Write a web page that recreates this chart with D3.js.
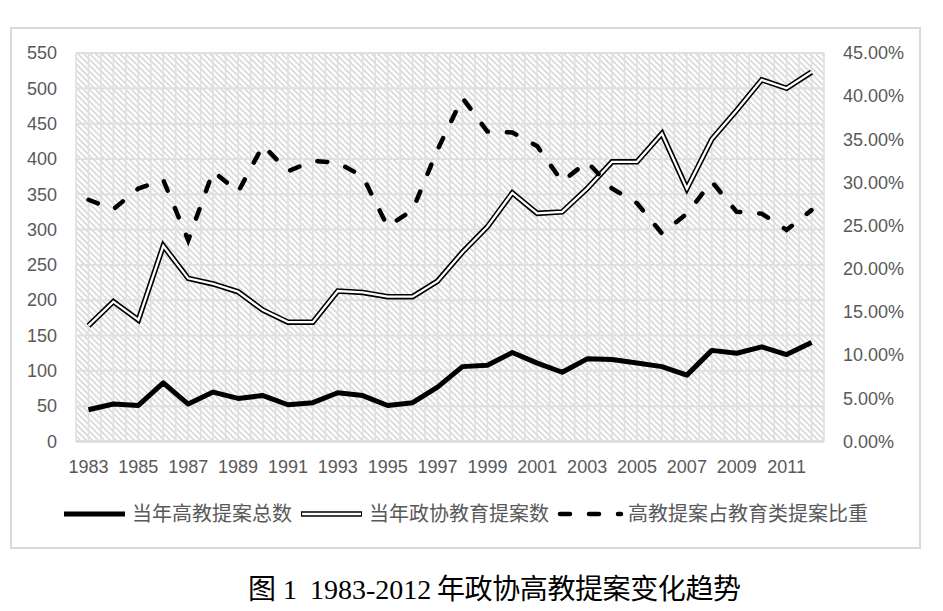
<!DOCTYPE html>
<html><head><meta charset="utf-8">
<script src="https://cdn.jsdelivr.net/npm/d3@7"></script>
<style>html,body{margin:0;padding:0;background:#fff}</style>
</head><body>
<svg id="c" width="943" height="611"></svg>
<script>
const years = d3.range(1983, 2013).map(String);
const xTickLabels = ["1983","1985","1987","1989","1991","1993","1995","1997","1999","2001","2003","2005","2007","2009","2011"];
const leftTicks = [0,50,100,150,200,250,300,350,400,450,500,550];
const rightTicks = [0,0.05,0.10,0.15,0.20,0.25,0.30,0.35,0.40,0.45];
const seriesNames = ["当年高教提案总数","当年政协教育提案数","高教提案占教育类提案比重"];
const totalHE = [45,53,51,83,53,70,61,65,52,55,69,65,51,55,77,106,108,126,111,98,117,116,111,106,94,129,125,134,123,140];
const totalEdu = [164,198,172,277,231,223,212,186,169,169,213,211,205,205,227,268,304,352,323,325,358,396,396,436,358,428,469,512,500,523];
const ratio = [0.280,0.269,0.293,0.303,0.233,0.313,0.289,0.343,0.313,0.325,0.323,0.307,0.249,0.268,0.338,0.398,0.359,0.358,0.342,0.301,0.324,0.293,0.276,0.241,0.264,0.301,0.266,0.264,0.245,0.268];
const titleParts = ["图 1", "1983-2012", "年政协高教提案变化趋势"];

const svg = d3.select("#c");
const L = 76, R = 824, T = 53, B = 441.5;
const x = d3.scaleBand().domain(years).range([L, R]).padding(0);
const cx = d => x(d) + x.bandwidth()/2;
const yL = d3.scaleLinear().domain([0,550]).range([B,T]);
const yR = d3.scaleLinear().domain([0,0.45]).range([B,T]);

// outer frame
svg.append("rect").attr("x",11).attr("y",28).attr("width",909).attr("height",520)
  .attr("fill","#fff").attr("stroke","#d9d9d9").attr("stroke-width",2);

// hatch pattern
const defs = svg.append("defs");
const pat = defs.append("pattern").attr("id","hatch").attr("patternUnits","userSpaceOnUse")
  .attr("width",6).attr("height",6);
pat.append("rect").attr("width",6).attr("height",6).attr("fill","#fff");
pat.append("path").attr("d","M-1,-1 L7,7 M-1,5 L1,7 M5,-1 L7,1").attr("stroke","#dadada").attr("stroke-width",1.7);
svg.append("rect").attr("x",L).attr("y",T).attr("width",R-L).attr("height",B-T).attr("fill","url(#hatch)");

// gridlines
const g = svg.append("g");
const half = x.bandwidth()/2;
const vx = d3.range(0, years.length*2+1).map(i => L + i*half);
g.selectAll("line.v").data(vx).join("line").attr("class","v")
  .attr("x1",d=>d).attr("x2",d=>d).attr("y1",T).attr("y2",B)
  .attr("stroke","#dfdfdf").attr("stroke-width",1.6);
g.selectAll("line.h").data(leftTicks).join("line").attr("class","h")
  .attr("x1",L).attr("x2",R).attr("y1",d=>yL(d)).attr("y2",d=>yL(d))
  .attr("stroke","#dfdfdf").attr("stroke-width",2);

// axes
const font = "'Liberation Sans', Arial, sans-serif";
const axL = svg.append("g").attr("transform",`translate(${L},0)`)
  .call(d3.axisLeft(yL).tickValues(leftTicks).tickSize(0).tickPadding(19));
const axR = svg.append("g").attr("transform",`translate(${R},0)`)
  .call(d3.axisRight(yR).tickValues(rightTicks).tickSize(0).tickPadding(19).tickFormat(d3.format(".2%")));
const axB = svg.append("g").attr("transform",`translate(0,${B})`)
  .call(d3.axisBottom(x).tickValues(xTickLabels).tickSize(0).tickPadding(19));
[axL,axR,axB].forEach(a=>{
  a.select(".domain").remove();
  a.selectAll("text").attr("fill","#595959").style("font-family",font).style("font-size","18px");
});
svg.append("line").attr("x1",L).attr("x2",R).attr("y1",B).attr("y2",B).attr("stroke","#d9d9d9").attr("stroke-width",2);

// lines
const lineL = d3.line().x((d,i)=>cx(years[i])).y(d=>yL(d));
const lineR = d3.line().x((d,i)=>cx(years[i])).y(d=>yR(d));
svg.append("path").attr("d",lineL(totalEdu)).attr("fill","none").attr("stroke","#000").attr("stroke-width",5.5).attr("stroke-linejoin","miter");
svg.append("path").attr("d",lineL(totalEdu)).attr("fill","none").attr("stroke","#fff").attr("stroke-width",2.3).attr("stroke-linejoin","miter");
svg.append("path").attr("d",lineL(totalHE)).attr("fill","none").attr("stroke","#000").attr("stroke-width",5).attr("stroke-linejoin","round");
svg.append("path").attr("d",lineR(ratio)).attr("fill","none").attr("stroke","#000").attr("stroke-width",4.5)
  .attr("stroke-dasharray","10 19").attr("stroke-linecap","round");

// legend
const ly = 514;
const lg = svg.append("g");
const items = [
  {x1:64,x2:125,tx:132,type:0},
  {x1:301,x2:362,tx:369,type:1},
  {x1:560,x2:621,tx:628,type:2}
];
items.forEach((it,i)=>{
  if(it.type===0){
    lg.append("line").attr("x1",it.x1).attr("x2",it.x2).attr("y1",ly).attr("y2",ly).attr("stroke","#000").attr("stroke-width",5);
  } else if(it.type===1){
    lg.append("line").attr("x1",it.x1).attr("x2",it.x2).attr("y1",ly).attr("y2",ly).attr("stroke","#000").attr("stroke-width",5.5);
    lg.append("line").attr("x1",it.x1+1).attr("x2",it.x2-1).attr("y1",ly).attr("y2",ly).attr("stroke","#fff").attr("stroke-width",2.3);
  } else {
    lg.append("line").attr("x1",it.x1).attr("x2",it.x2).attr("y1",ly).attr("y2",ly).attr("stroke","#000").attr("stroke-width",4.5)
      .attr("stroke-dasharray","10 19").attr("stroke-linecap","round");
  }
  lg.append("text").attr("x",it.tx).attr("y",ly).attr("dy","0.36em").text(seriesNames[i])
    .attr("fill","#595959").style("font-family","'Noto Sans CJK SC', sans-serif").style("font-size","20px");
});

// title
const tt = svg.append("text").attr("y",599).attr("fill","#000")
  .style("font-family","'Liberation Serif', 'Noto Sans CJK SC', serif").style("font-size","28px");
tt.append("tspan").attr("x",248).text(titleParts[0]);
tt.append("tspan").attr("x",310).text(titleParts[1]);
tt.append("tspan").attr("x",437).attr("textLength",304).attr("lengthAdjust","spacing").text(titleParts[2]);
</script>
</body></html>
